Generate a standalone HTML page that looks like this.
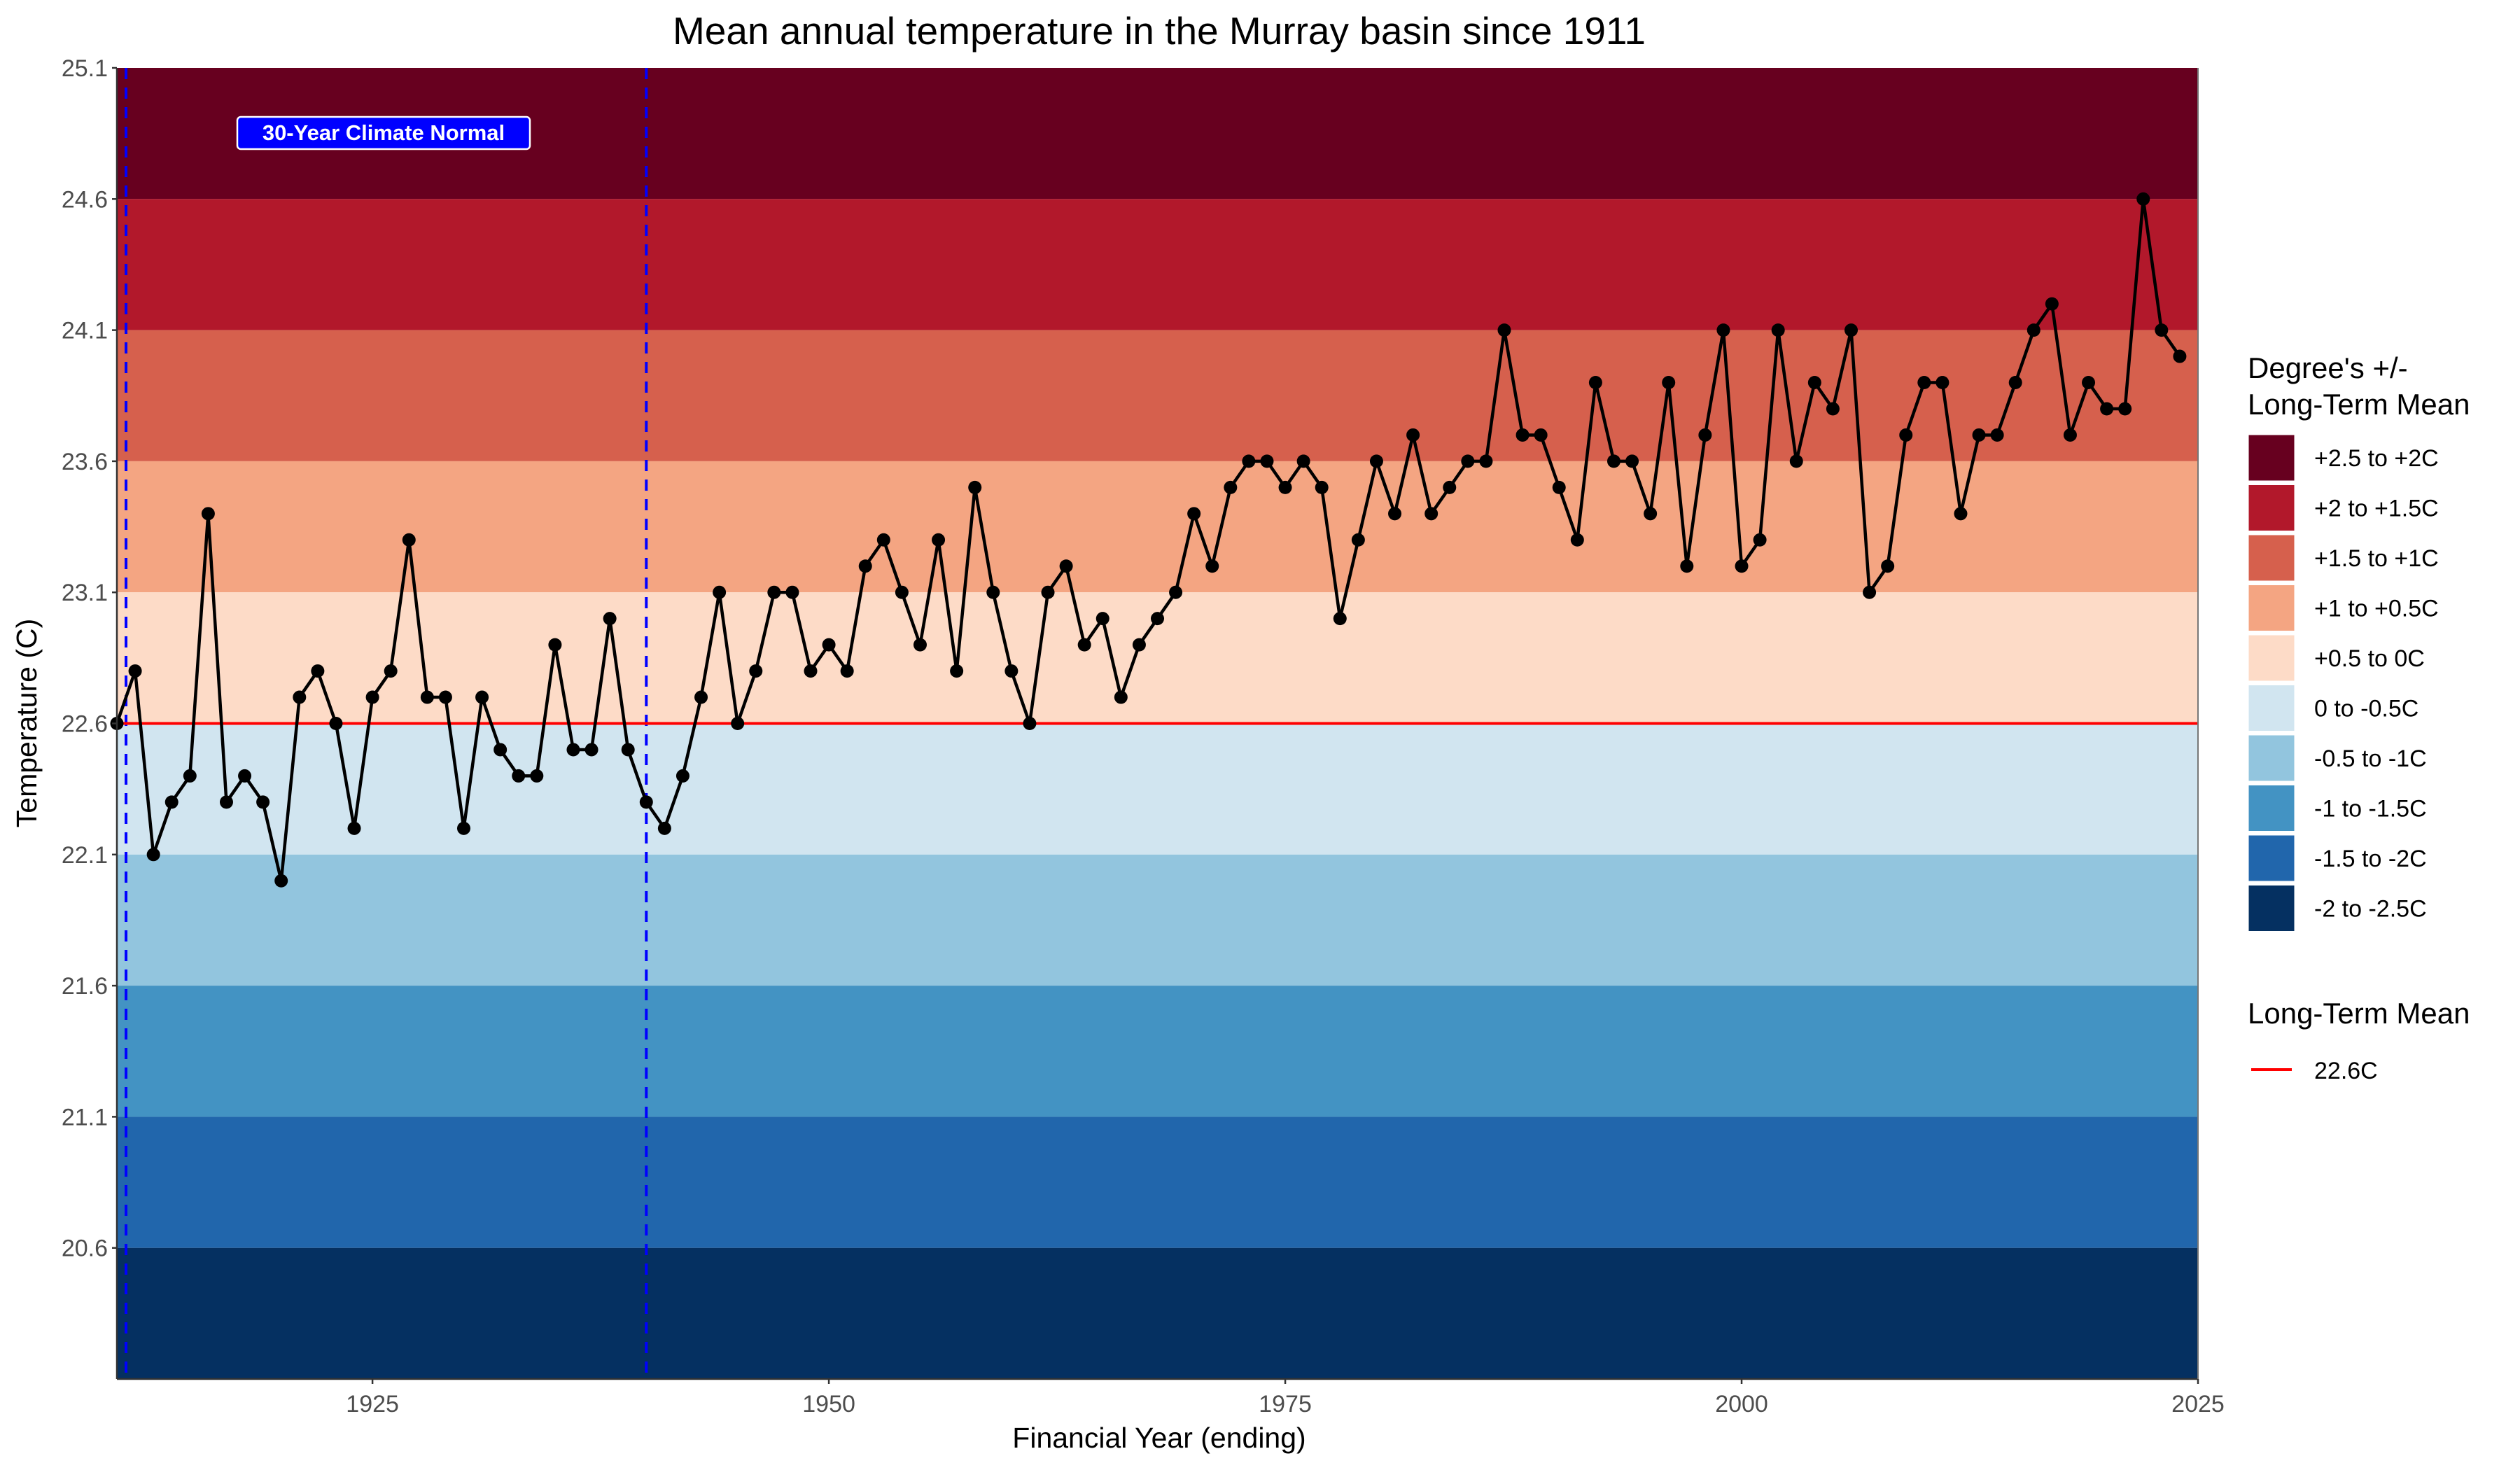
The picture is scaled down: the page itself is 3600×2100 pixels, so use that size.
<!DOCTYPE html>
<html><head><meta charset="utf-8"><style>
html,body{margin:0;padding:0;background:#fff;}
svg{display:block;font-family:"Liberation Sans",Arial,sans-serif;}
</style></head><body>
<svg id="chart" width="3600" height="2100" viewBox="0 0 3600 2100" xmlns="http://www.w3.org/2000/svg">
<text x="1656" y="63" font-size="55" text-anchor="middle" fill="#000">Mean annual temperature in the Murray basin since 1911</text>
<g id="bands"></g>
<g id="vlines"></g>
<line id="meanline" stroke="#ff0000" stroke-width="4"/>
<g id="series"></g>
<g>
<rect x="339" y="167" width="418" height="46" rx="5" fill="#0000ff" stroke="#fff" stroke-width="2.5"/>
<text x="548" y="200" font-size="31" font-weight="bold" fill="#fff" text-anchor="middle">30-Year Climate Normal</text>
</g>
<g id="axes"></g>
<text transform="translate(52,1033) rotate(-90)" font-size="41" text-anchor="middle" fill="#000">Temperature (C)</text>
<text x="1656" y="2068" font-size="41" text-anchor="middle" fill="#000">Financial Year (ending)</text>
<g id="legend">
<text x="3211" y="540" font-size="42" fill="#000">Degree's +/-</text>
<text x="3211" y="592" font-size="42" fill="#000">Long-Term Mean</text>
<text x="3211" y="1462" font-size="42" fill="#000">Long-Term Mean</text>
<line x1="3216" y1="1528" x2="3274" y2="1528" stroke="#ff0000" stroke-width="4"/>
<text x="3306" y="1541" font-size="34" fill="#000">22.6C</text>
</g>
</svg>
<script>
const years = [];
for (let y = 1911; y <= 2024; y++) years.push(y);
const temps = [
22.6,22.8,22.1,22.3,22.4,23.4,22.3,22.4,22.3,22.0,
22.7,22.8,22.6,22.2,22.7,22.8,23.3,22.7,22.7,22.2,
22.7,22.5,22.4,22.4,22.9,22.5,22.5,23.0,22.5,22.3,
22.2,22.4,22.7,23.1,22.6,22.8,23.1,23.1,22.8,22.9,
22.8,23.2,23.3,23.1,22.9,23.3,22.8,23.5,23.1,22.8,
22.6,23.1,23.2,22.9,23.0,22.7,22.9,23.0,23.1,23.4,
23.2,23.5,23.6,23.6,23.5,23.6,23.5,23.0,23.3,23.6,
23.4,23.7,23.4,23.5,23.6,23.6,24.1,23.7,23.7,23.5,
23.3,23.9,23.6,23.6,23.4,23.9,23.2,23.7,24.1,23.2,
23.3,24.1,23.6,23.9,23.8,24.1,23.1,23.2,23.7,23.9,
23.9,23.4,23.7,23.7,23.9,24.1,24.2,23.7,23.9,23.8,
23.8,24.6,24.1,24.0];
const longTermMean = 22.6;
const bandLabels = ["+2.5 to +2C","+2 to +1.5C","+1.5 to +1C","+1 to +0.5C","+0.5 to 0C","0 to -0.5C","-0.5 to -1C","-1 to -1.5C","-1.5 to -2C","-2 to -2.5C"];
const bandOffsets = [2.5,2.0,1.5,1.0,0.5,0.0,-0.5,-1.0,-1.5,-2.0];
const bandColors = ["#67001f","#b2182b","#d6604d","#f4a582","#fddbc7","#d1e5f0","#92c5de","#4393c3","#2166ac","#053061"];
const yTicks = [20.6,21.1,21.6,22.1,22.6,23.1,23.6,24.1,24.6,25.1];
const xTicks = [1925,1950,1975,2000,2025];
const normalLines = [1911.5,1940];

const NS = "http://www.w3.org/2000/svg";
const L = 167, R = 3140, T = 97, B = 1970;
const xMin = 1911, xMax = 2025, yMin = 20.1, yMax = 25.1;
const xs = v => L + (v - xMin) / (xMax - xMin) * (R - L);
const ys = v => B - (v - yMin) / (yMax - yMin) * (B - T);
function mk(tag, attrs, parent) {
  const e = document.createElementNS(NS, tag);
  for (const k in attrs) e.setAttribute(k, attrs[k]);
  parent.appendChild(e);
  return e;
}
const bands = document.getElementById("bands");
bandOffsets.forEach((o, i) => {
  const top = longTermMean + o, bot = top - 0.5;
  const r = mk("rect", {x: L, y: ys(top), width: R - L, height: ys(bot) - ys(top), fill: bandColors[i]}, bands);
  
  
});
const vl = document.getElementById("vlines");
normalLines.forEach((v, i) => {
  const l = mk("line", {x1: xs(v), x2: xs(v), y1: T, y2: B, stroke: "#0000ff", "stroke-width": 4, "stroke-dasharray": "16 12"}, vl);
  
  
});
const ml = document.getElementById("meanline");
ml.setAttribute("x1", L); ml.setAttribute("x2", R);
ml.setAttribute("y1", ys(longTermMean)); ml.setAttribute("y2", ys(longTermMean));
const ser = document.getElementById("series");
const pts = years.map((y, i) => xs(y) + "," + ys(temps[i])).join(" ");
const pl = mk("polyline", {points: pts, fill: "none", stroke: "#000", "stroke-width": 4.5, "stroke-linejoin": "round"}, ser);


years.forEach((y, i) => {
  const c = mk("circle", {cx: xs(y), cy: ys(temps[i]), r: 9.5, fill: "#000"}, ser);
  
  
});
const ax = document.getElementById("axes");
mk("line", {x1: L, x2: L, y1: T, y2: B, stroke: "#333", "stroke-width": 2.5}, ax);
mk("line", {x1: L, x2: R, y1: B, y2: B, stroke: "#333", "stroke-width": 2.5}, ax);
mk("line", {x1: R, x2: R, y1: T, y2: B, stroke: "#777", "stroke-width": 2}, ax);
yTicks.forEach(v => {
  mk("line", {x1: L - 7, x2: L, y1: ys(v), y2: ys(v), stroke: "#333", "stroke-width": 2.5}, ax);
  const t = mk("text", {x: L - 13, y: ys(v) + 12, "font-size": 34, "text-anchor": "end", fill: "#4d4d4d"}, ax);
  t.textContent = v.toFixed(1);
  
  
});
xTicks.forEach(v => {
  mk("line", {x1: xs(v), x2: xs(v), y1: B, y2: B + 7, stroke: "#333", "stroke-width": 2.5}, ax);
  const t = mk("text", {x: xs(v), y: 2017, "font-size": 34, "text-anchor": "middle", fill: "#4d4d4d"}, ax);
  t.textContent = v;
  
  
});
const lg = document.getElementById("legend");
bandLabels.forEach((lab, i) => {
  const y0 = 620 + i * 71.5;
  const r = mk("rect", {x: 3211, y: y0, width: 68, height: 68, fill: bandColors[i], stroke: "#fff", "stroke-width": 3}, lg);
  
  
  const t = mk("text", {x: 3306, y: y0 + 46, "font-size": 34, fill: "#000"}, lg);
  t.textContent = lab;
  
  
});
</script>
</body></html>
